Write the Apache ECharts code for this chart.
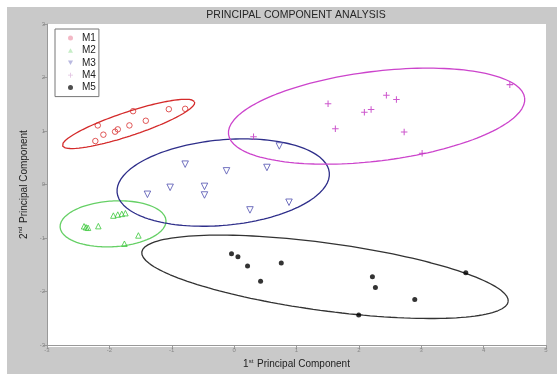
<!DOCTYPE html>
<html>
<head>
<meta charset="utf-8">
<script src="https://cdn.jsdelivr.net/npm/echarts@6/dist/echarts.min.js"></script>
<style>html,body{margin:0;padding:0;background:#fff}#c{width:557px;height:374px}</style>
</head>
<body>
<div id="c"></div>
<script>
// ---- data ----
const seriesNames = ['M1', 'M2', 'M3', 'M4', 'M5'];
const m1X = [-2.186, -2.225, -2.096, -1.909, -1.865, -1.679, -1.416, -1.620, -1.047, -0.785];
const m1Y = [1.105, 0.813, 0.932, 0.988, 1.031, 1.105, 1.192, 1.371, 1.408, 1.415];
const m2X = [-2.406, -2.374, -2.342, -2.177, -1.936, -1.865, -1.801, -1.743, -1.535, -1.759];
const m2Y = [-0.780, -0.799, -0.808, -0.777, -0.580, -0.561, -0.548, -0.535, -0.951, -1.106];
const m3X = [-0.785, -0.122, 0.526, 0.724, -1.026, -0.475, -0.475, -1.390, 0.254, 0.880];
const m3Y = [0.381, 0.256, 0.319, 0.721, -0.052, -0.034, -0.195, -0.182, -0.474, -0.331];
const m4X = [0.311, 1.506, 1.623, 2.088, 2.196, 2.441, 2.602, 2.726, 3.014, 4.420];
const m4Y = [0.895, 1.508, 1.044, 1.352, 1.402, 1.668, 1.588, 0.981, 0.585, 1.867];
const m5X = [-0.042, 0.061, 0.215, 0.424, 0.756, 2.217, 2.265, 2.896, 3.714, 1.997];
const m5Y = [-1.291, -1.347, -1.520, -1.806, -1.464, -1.724, -1.923, -2.146, -1.650, -2.437];

// ellipse parameters (data units): centre, major half-axis vector, minor half-axis vector
const ellCx = [-1.692, -1.941, -0.175, 2.284, 1.457];
const ellCy = [1.133, -0.734, 0.037, 1.278, -1.724];
const ellUx = [1.059, 0.849, 1.701, 2.374, 2.937];
const ellUy = [0.409, 0.062, 0.186, 0.341, -0.464];
const ellVx = [0.061, 0.023, 0.065, 0.089, -0.074];
const ellVy = [-0.211, -0.426, -0.795, -0.830, -0.626];

const xTicks = [-3, 5, 1];
const yTicks = [-3, 3, 1];

// ---- styling ----
const markerColors = ['#d83030', '#3cc83c', '#5050b0', '#c030c0', '#000000'];
const ellColors = ['#d42a2a', '#66d066', '#2e2e8a', '#cc44cc', '#333333'];
const legendColors = ['#f0a8b8', '#b8e8b8', '#a8a8d8', '#d8b0d8', '#222222'];
const downTri = 'path://M0,0L10,0L5,9Z';
const plusPath = 'path://M4.2,0H5.8V4.2H10V5.8H5.8V10H4.2V5.8H0V4.2H4.2Z';
const symbols = ['circle', 'triangle', downTri, plusPath, 'circle'];
const legendSymbols = ['circle', 'path://M5,0L10,9L0,9Z', downTri, plusPath, 'circle'];
const sizes = [5.5, 5.5, 6.5, 6.5, 5];
const hollow = [true, true, true, false, false];

const xs = [m1X, m2X, m3X, m4X, m5X];
const ys = [m1Y, m2Y, m3Y, m4Y, m5Y];

function ellipsePts(i) {
  const pts = [];
  const n = 160;
  for (let k = 0; k <= n; k++) {
    const t = 2 * Math.PI * k / n;
    pts.push([ellCx[i] + ellUx[i] * Math.cos(t) + ellVx[i] * Math.sin(t),
              ellCy[i] + ellUy[i] * Math.cos(t) + ellVy[i] * Math.sin(t)]);
  }
  return pts;
}

const series = [];
seriesNames.forEach((nm, i) => {
  series.push({
    name: nm + ' ellipse', type: 'line', data: ellipsePts(i), showSymbol: false,
    symbol: 'none', smooth: false, silent: true,
    lineStyle: { color: ellColors[i], width: 1.3 }, z: 2
  });
});
seriesNames.forEach((nm, i) => {
  series.push({
    name: nm, type: 'scatter',
    data: xs[i].map((x, k) => [x, ys[i][k]]),
    symbol: symbols[i], symbolSize: sizes[i],
    itemStyle: hollow[i]
      ? { color: 'rgba(0,0,0,0)', borderColor: markerColors[i], borderWidth: 1 }
      : { color: markerColors[i] },
    z: 3
  });
});

const chart = echarts.init(document.getElementById('c'), null, { renderer: 'canvas' });
chart.setOption({
  animation: false,
  backgroundColor: '#ffffff',
  textStyle: { fontFamily: 'Liberation Sans, Arial, sans-serif' },
  graphic: [
    { type: 'rect', left: 7, top: 7, z: -100, shape: { width: 550, height: 367 }, style: { fill: '#c9c9c9' } },
    { type: 'rect', left: 47, top: 24, z: -90, shape: { width: 499, height: 323 }, style: { fill: '#ffffff' } },
    { type: 'text', x: 296, y: 15, z: 10,
      style: { text: 'PRINCIPAL COMPONENT ANALYSIS', align: 'center', verticalAlign: 'middle',
               font: '10.5px "Liberation Sans", Arial, sans-serif', fill: '#262626' } }
  ],
  grid: { left: 47, top: 24, right: 11, bottom: 27, containLabel: false },
  legend: {
    orient: 'vertical', left: 55, top: 29,
    padding: [3, 3, 3, 13], itemGap: 0.4, itemWidth: 5, itemHeight: 5,
    backgroundColor: '#ffffff', borderColor: '#777777', borderWidth: 1, borderRadius: 0,
    textStyle: { fontSize: 10, color: '#222', lineHeight: 12, padding: [0, 0, 0, 4] },
    data: seriesNames.map((nm, i) => ({
      name: nm, icon: legendSymbols[i],
      itemStyle: { color: legendColors[i], borderColor: legendColors[i], borderWidth: 0 }
    }))
  },
  xAxis: {
    type: 'value', min: xTicks[0], max: xTicks[1], interval: xTicks[2],
    name: '1{sup|st} Principal Component', nameLocation: 'middle', nameGap: 12,
    nameTextStyle: { fontSize: 10, color: '#222', rich: { sup: { fontSize: 6, padding: [0, 1, 6, 0] } } },
    axisLine: { show: true, onZero: false, lineStyle: { color: '#999', width: 1 } },
    axisTick: { show: true, inside: false, length: 4, lineStyle: { color: '#999' } },
    axisLabel: { fontSize: 6, color: '#888', margin: 2 },
    splitLine: { show: false }
  },
  yAxis: {
    type: 'value', min: yTicks[0], max: yTicks[1], interval: yTicks[2],
    name: '2{sup|nd} Principal Component', nameLocation: 'middle', nameGap: 14, nameRotate: 90,
    nameTextStyle: { fontSize: 10, color: '#222', rich: { sup: { fontSize: 6, padding: [0, 1, 6, 0] } } },
    axisLine: { show: true, onZero: false, lineStyle: { color: '#999', width: 1 } },
    axisTick: { show: true, inside: false, length: 4, lineStyle: { color: '#999' } },
    axisLabel: { fontSize: 6, color: '#888', margin: 2 },
    splitLine: { show: false }
  },
  series: series
});
</script>
</body>
</html>
